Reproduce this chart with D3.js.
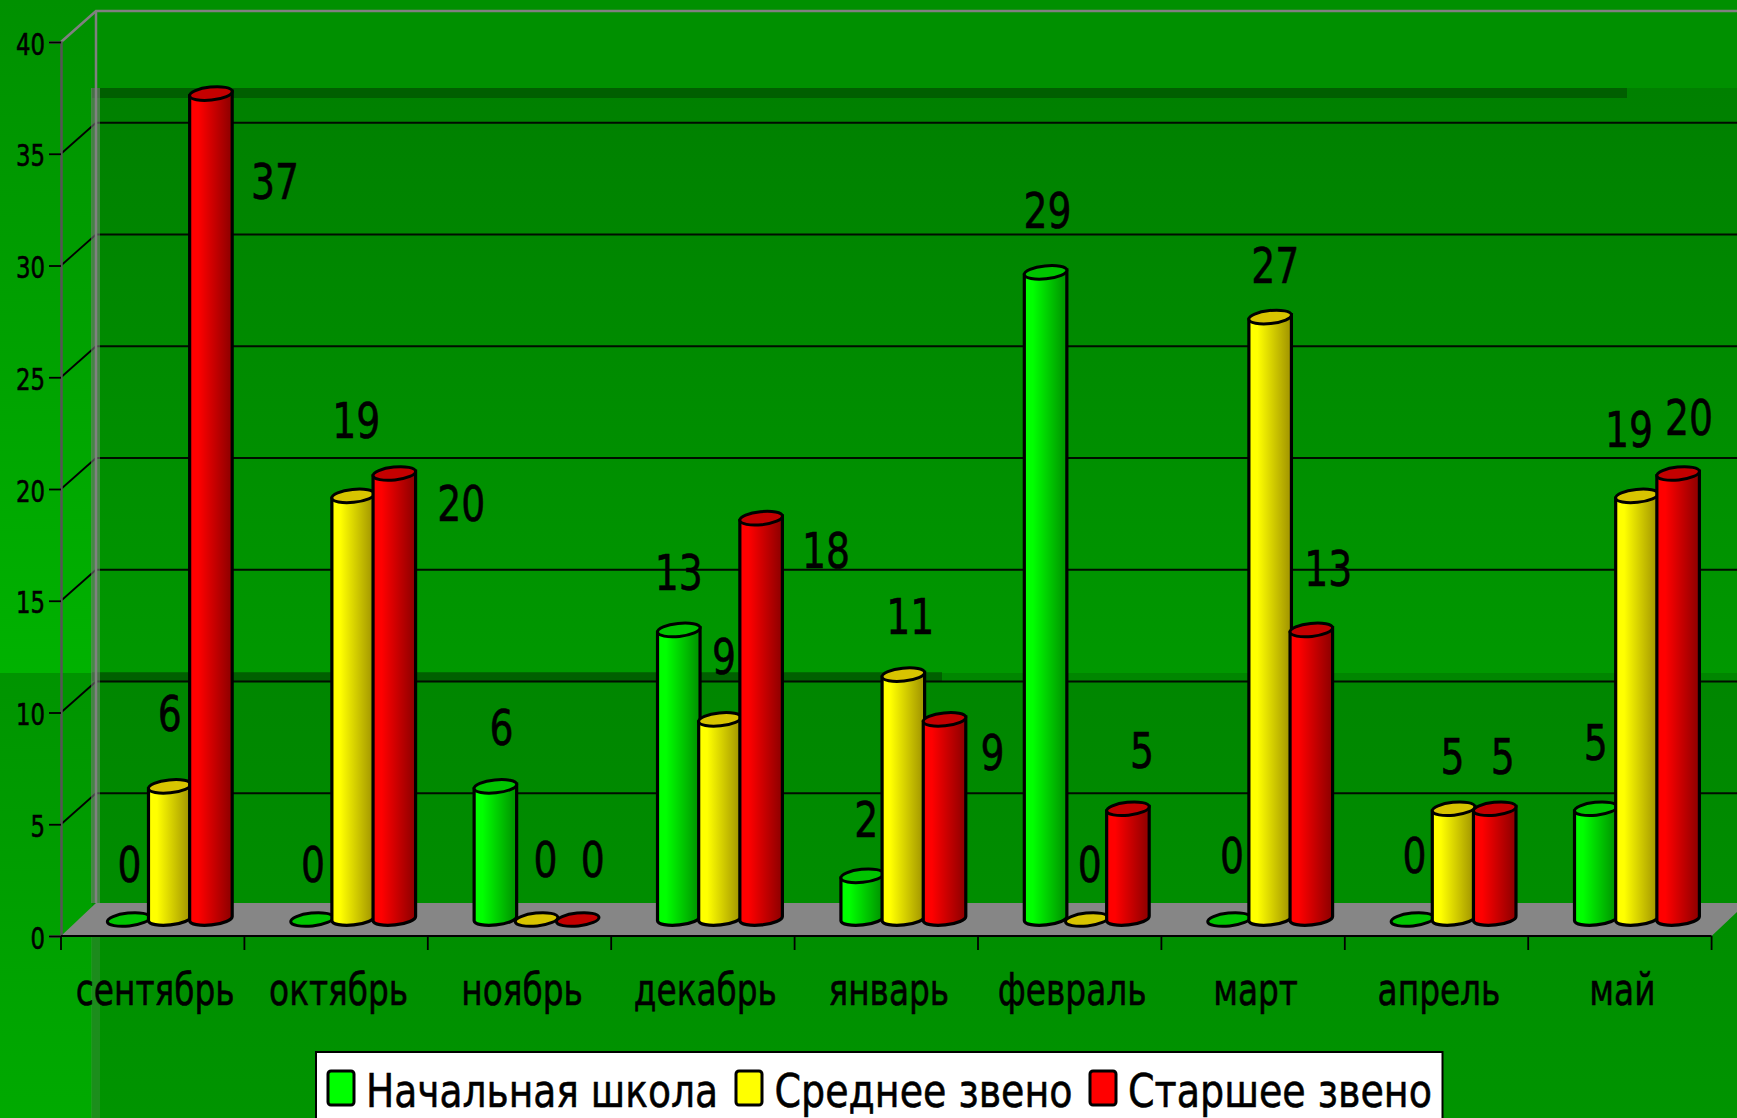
<!DOCTYPE html>
<html>
<head>
<meta charset="utf-8">
<script src="https://cdn.jsdelivr.net/npm/d3@7"></script>
<style>
    html, body { margin: 0; padding: 0; background: #009000; overflow: hidden; }
    svg { display: block; }
    text { font-family: "DejaVu Sans", sans-serif; fill: #000; stroke: #000; stroke-width: 0.6px; }
</style>
</head>
<body>
<svg id="chart"></svg>
<script>
const months = ["сентябрь", "октябрь", "ноябрь", "декабрь", "январь", "февраль", "март", "апрель", "май"];
const seriesNames = ["Начальная школа", "Среднее звено", "Старшее звено"];
const primary = [0, 0, 6, 13, 2, 29, 0, 0, 5];
const middle = [6, 19, 0, 9, 11, 0, 27, 5, 19];
const senior = [37, 20, 0, 18, 9, 5, 13, 5, 20];
const yTicks = [0, 5, 10, 15, 20, 25, 30, 35, 40];

// label shift from the top of each cylinder, the chart places them by hand
const primaryNudge = [[1, -57], [1, -57], [6, -59], [0, -58], [4, -57], [2, -62], [3, -66], [2, -66], [0, -67]];
const middleNudge = [[0, -73], [3, -76], [9, -62], [4, -63], [7, -59], [3, -57], [5, -52], [-1, -53], [-8, -67]];
const seniorNudge = [[64, 87], [67, 29], [15, -62], [65, 32], [48, 33], [14, -59], [17, -62], [8, -53], [11, -57]];

const colors = [
    { top: "#00c400", base: "#00ff00", dark: "#009a00", id: "g" },
    { top: "#d8c400", base: "#ffff00", dark: "#a89c00", id: "y" },
    { top: "#c40000", base: "#ff0000", dark: "#960000", id: "r" }
];

const W = 1737, H = 1118;
const depthX = 35, depthY = 31;
const svg = d3.select("#chart").attr("width", W).attr("height", H);
const defs = svg.append("defs");

function vGrad(id, stops, horizontal) {
    const g = defs.append("linearGradient").attr("id", id)
        .attr("x1", 0).attr("y1", 0).attr("x2", horizontal ? 1 : 0).attr("y2", horizontal ? 0 : 1);
    stops.forEach(s => g.append("stop").attr("offset", s[0]).attr("stop-color", s[1]));
}
vGrad("leftTop", [[0, "#009000"], [1, "#00b200"]]);
vGrad("leftBottom", [[0, "#009400"], [1, "#00aa00"]]);
vGrad("wallTop", [[0, "#008000"], [1, "#009800"]]);
vGrad("wallBottom", [[0, "#008600"], [1, "#009400"]]);
colors.forEach(c => vGrad("cyl" + c.id, [[0.04, c.base], [0.2, c.base], [0.92, c.dark]], true));

const xBand = d3.scaleBand().domain(months).range([61, 1711.6]);
const xInner = d3.scaleBand().domain(seriesNames).range([47, 170.5]);
const yFront = d3.scaleLinear().domain([0, 40]).range([936, 42]);
const yBack = d3.scaleLinear().domain([0, 40]).range([936 - depthY, 42 - depthY]);
const yBar = d3.scaleLinear().domain([0, 40]).range([920.5, 26.5]);

// background panels
svg.append("rect").attr("width", W).attr("height", H).attr("fill", "#009000");
svg.append("rect").attr("x", 0).attr("y", 0).attr("width", 92).attr("height", 673).attr("fill", "url(#leftTop)");
svg.append("rect").attr("x", 0).attr("y", 673).attr("width", 92).attr("height", H - 673).attr("fill", "url(#leftBottom)");
svg.append("rect").attr("x", 92).attr("y", 88).attr("width", W - 92).attr("height", 585).attr("fill", "url(#wallTop)");
svg.append("rect").attr("x", 92).attr("y", 673).attr("width", W - 92).attr("height", H - 673).attr("fill", "url(#wallBottom)");
svg.append("rect").attr("x", 92).attr("y", 88).attr("width", 1535).attr("height", 10).attr("fill", "#005f00");
svg.append("rect").attr("x", 92).attr("y", 672).attr("width", 850).attr("height", 9).attr("fill", "#000").attr("opacity", 0.28);

// wall, floor
const backX = 61 + depthX;
const floorBack = yBack(0) - 2;
svg.append("path")
    .attr("d", d3.line()([[61, yFront(0)], [1711.6, yFront(0)], [1711.6 + depthX, floorBack], [backX, floorBack]]) + "Z")
    .attr("fill", "#868686");

const gridTicks = yTicks.filter(d => d > 0 && d < 40);
svg.selectAll(".grid").data(gridTicks).enter().append("line")
    .attr("x1", backX).attr("x2", W)
    .attr("y1", d => yBack(d)).attr("y2", d => yBack(d))
    .attr("stroke", "#000").attr("stroke-width", 1.8).attr("opacity", 0.9);
svg.selectAll(".diag").data(gridTicks).enter().append("line")
    .attr("x1", 61).attr("x2", backX)
    .attr("y1", d => yFront(d)).attr("y2", d => yBack(d))
    .attr("stroke", "#000").attr("stroke-width", 1.8);

const grey = "#808080";
svg.append("path")
    .attr("d", d3.line()([[61, yFront(40)], [backX, yBack(40)], [W, yBack(40)]]))
    .attr("fill", "none").attr("stroke", grey).attr("stroke-width", 2.5);
svg.append("line").attr("x1", backX).attr("x2", backX).attr("y1", yBack(40)).attr("y2", floorBack)
    .attr("stroke", grey).attr("stroke-width", 2.5);

// grey streak from the slide behind
svg.append("rect").attr("x", 91).attr("y", 88).attr("width", 9).attr("height", floorBack - 88).attr("fill", grey).attr("opacity", 0.55);
svg.append("rect").attr("x", 91).attr("y", yFront(0)).attr("width", 9).attr("height", H - yFront(0)).attr("fill", grey).attr("opacity", 0.22);

// axes
const yAxis = svg.append("g").attr("transform", "translate(61,0)")
    .call(d3.axisLeft(yFront).tickValues(yTicks).tickSize(12).tickPadding(4));
yAxis.select(".domain").attr("stroke", "#555").attr("stroke-width", 2.5);
yAxis.selectAll(".tick line").attr("stroke", "#000").attr("stroke-width", 1.8);
yAxis.selectAll(".tick text")
    .attr("dy", 12)
    .style("font-size", "31px")
    .style("font-family", "'DejaVu Sans', sans-serif")
    .attr("textLength", d => String(d).length * 14.5)
    .attr("lengthAdjust", "spacingAndGlyphs");

const xEdges = months.map(m => xBand(m)).concat([xBand.range()[1]]);
svg.append("line").attr("x1", 61).attr("x2", 1711.6).attr("y1", yFront(0)).attr("y2", yFront(0))
    .attr("stroke", "#000").attr("stroke-width", 2);
svg.selectAll(".xt").data(xEdges).enter().append("line")
    .attr("x1", d => d).attr("x2", d => d)
    .attr("y1", yFront(0)).attr("y2", yFront(0) + 14)
    .attr("stroke", "#000").attr("stroke-width", 1.8);

svg.selectAll(".cat").data(months).enter().append("text")
    .attr("x", d => xBand(d) + xBand.bandwidth() / 2 + 2.5)
    .attr("y", 1005)
    .attr("text-anchor", "middle")
    .style("font-size", "44px")
    .text(d => d)
    .each(function() {
        d3.select(this).attr("textLength", this.getComputedTextLength() * 0.745).attr("lengthAdjust", "spacingAndGlyphs");
    });

// cylinders
const rx = xInner.bandwidth() / 2 + 0.8, ry = 6.5, tilt = -6;
const tx = rx * Math.cos(tilt * Math.PI / 180), ty = rx * Math.sin(tilt * Math.PI / 180);

const allSeries = [primary, middle, senior];
const allNudges = [primaryNudge, middleNudge, seniorNudge];

const cells = months.flatMap((m, i) => allSeries.map((vals, s) => ({
    month: m, value: vals[i], s, name: seriesNames[s], nudge: allNudges[s][i]
})));
const cx = d => xBand(d.month) + xInner(d.name) + xInner.bandwidth() / 2;

const bars = svg.selectAll(".cyl").data(cells).enter().append("g").attr("class", "cyl");

bars.filter(d => d.value > 0).append("path")
    .attr("d", d => {
        const x = cx(d), t = yBar(d.value), b = yBar(0) - 2;
        return `M${x - tx},${t - ty}L${x - tx},${b - ty}A${rx},${ry} ${tilt} 0 0 ${x + tx},${b + ty}L${x + tx},${t + ty}Z`;
    })
    .attr("fill", d => `url(#cyl${colors[d.s].id})`)
    .attr("stroke", "#000").attr("stroke-width", 3.2);

bars.append("ellipse")
    .attr("cx", 0).attr("cy", 0)
    .attr("rx", rx).attr("ry", ry)
    .attr("transform", d => `translate(${cx(d)},${yBar(d.value) - (d.value === 0 ? 1 : 0)}) rotate(${tilt})`)
    .attr("fill", d => colors[d.s].top)
    .attr("stroke", "#000").attr("stroke-width", 3);

// value labels
svg.selectAll(".val").data(cells).enter().append("text")
    .attr("x", d => cx(d) + d.nudge[0])
    .attr("y", d => yBar(d.value) + d.nudge[1] + 18)
    .attr("text-anchor", "middle")
    .style("font-size", "50px")
    .attr("textLength", d => String(d.value).length * 24)
    .attr("lengthAdjust", "spacingAndGlyphs")
    .text(d => d.value);

// legend
svg.append("rect").attr("x", 316).attr("y", 1052).attr("width", 1126.5).attr("height", 80)
    .attr("fill", "#fff").attr("stroke", "#000").attr("stroke-width", 2);
const legendX = d3.scaleOrdinal().domain(seriesNames).range([328, 736, 1090]);
const legendTextX = d3.scaleOrdinal().domain(seriesNames).range([366, 774.5, 1128]);
const legendTextW = d3.scaleOrdinal().domain(seriesNames).range([352, 298, 304]);
svg.selectAll(".swatch").data(seriesNames).enter().append("rect")
    .attr("x", d => legendX(d)).attr("y", 1071)
    .attr("width", 26).attr("height", 34).attr("rx", 3)
    .attr("fill", (d, i) => colors[i].base)
    .attr("stroke", "#000").attr("stroke-width", 3);
svg.selectAll(".leg").data(seriesNames).enter().append("text")
    .attr("x", d => legendTextX(d)).attr("y", 1107)
    .style("font-size", "47px")
    .attr("textLength", d => legendTextW(d))
    .attr("lengthAdjust", "spacingAndGlyphs")
    .text(d => d);
</script>
</body>
</html>
